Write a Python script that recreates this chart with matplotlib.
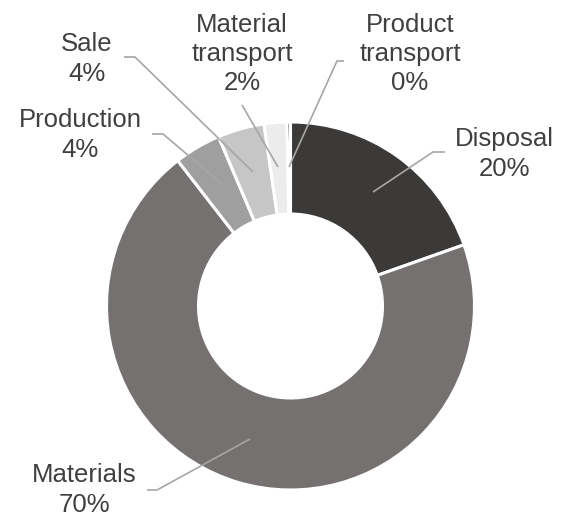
import matplotlib
matplotlib.use("Agg")
import matplotlib.pyplot as plt

categories = ["Disposal", "Materials", "Production", "Sale", "Material transport", "Product transport"]
values = [19.6, 69.9, 4.1, 4.1, 2.0, 0.3]
pct_labels = ["20%", "70%", "4%", "4%", "2%", "0%"]
label_text = ["Disposal", "Materials", "Production", "Sale", "Material\ntransport", "Product\ntransport"]
colors = ["#3b3a38", "#757170", "#a09f9f", "#c6c6c6", "#ececec", "#000000"]

W, H = 565, 518
fig = plt.figure(figsize=(W / 100, H / 100), dpi=100)
ax = fig.add_axes([0, 0, 1, 1])

cx, cy, R = 290.5, H - 306, 184
ax.pie(values, colors=colors, startangle=90, counterclock=False,
       center=(cx, cy), radius=R, frame=True,
       wedgeprops=dict(width=R * 0.5, edgecolor="white", linewidth=2.2))
ax.set_xlim(0, W)
ax.set_ylim(0, H)
ax.set_aspect("equal")
ax.axis("off")

# label text centres (pixel coords, y from top), leader line paths
text_pos = {
    "Disposal": (504, 154),
    "Materials": (84, 490),
    "Production": (80, 135),
    "Sale": (87, 59),
    "Material transport": (242, 54),
    "Product transport": (410, 54),
}
leaders = {
    "Disposal": [(373, 192), (433, 152), (445, 152)],
    "Materials": [(250, 439), (157, 490), (147, 490)],
    "Production": [(222, 184), (163, 134), (152, 134)],
    "Sale": [(253, 172), (135, 57), (124, 57)],
    "Material transport": [(278, 167), (242, 105)],
    "Product transport": [(289, 167), (337, 61), (344, 61)],
}

for cat, lt, pl in zip(categories, label_text, pct_labels):
    x, y = text_pos[cat]
    ax.text(x, H - y, lt + "\n" + pl, ha="center", va="center",
            fontsize=18.5, color="#404040", family=["Liberation Sans", "DejaVu Sans"],
            linespacing=1.27)
    pts = leaders[cat]
    ax.plot([p[0] for p in pts], [H - p[1] for p in pts], color="#a6a6a6",
            linewidth=1.2, solid_capstyle="butt")

fig.savefig("out.png", dpi=100)
